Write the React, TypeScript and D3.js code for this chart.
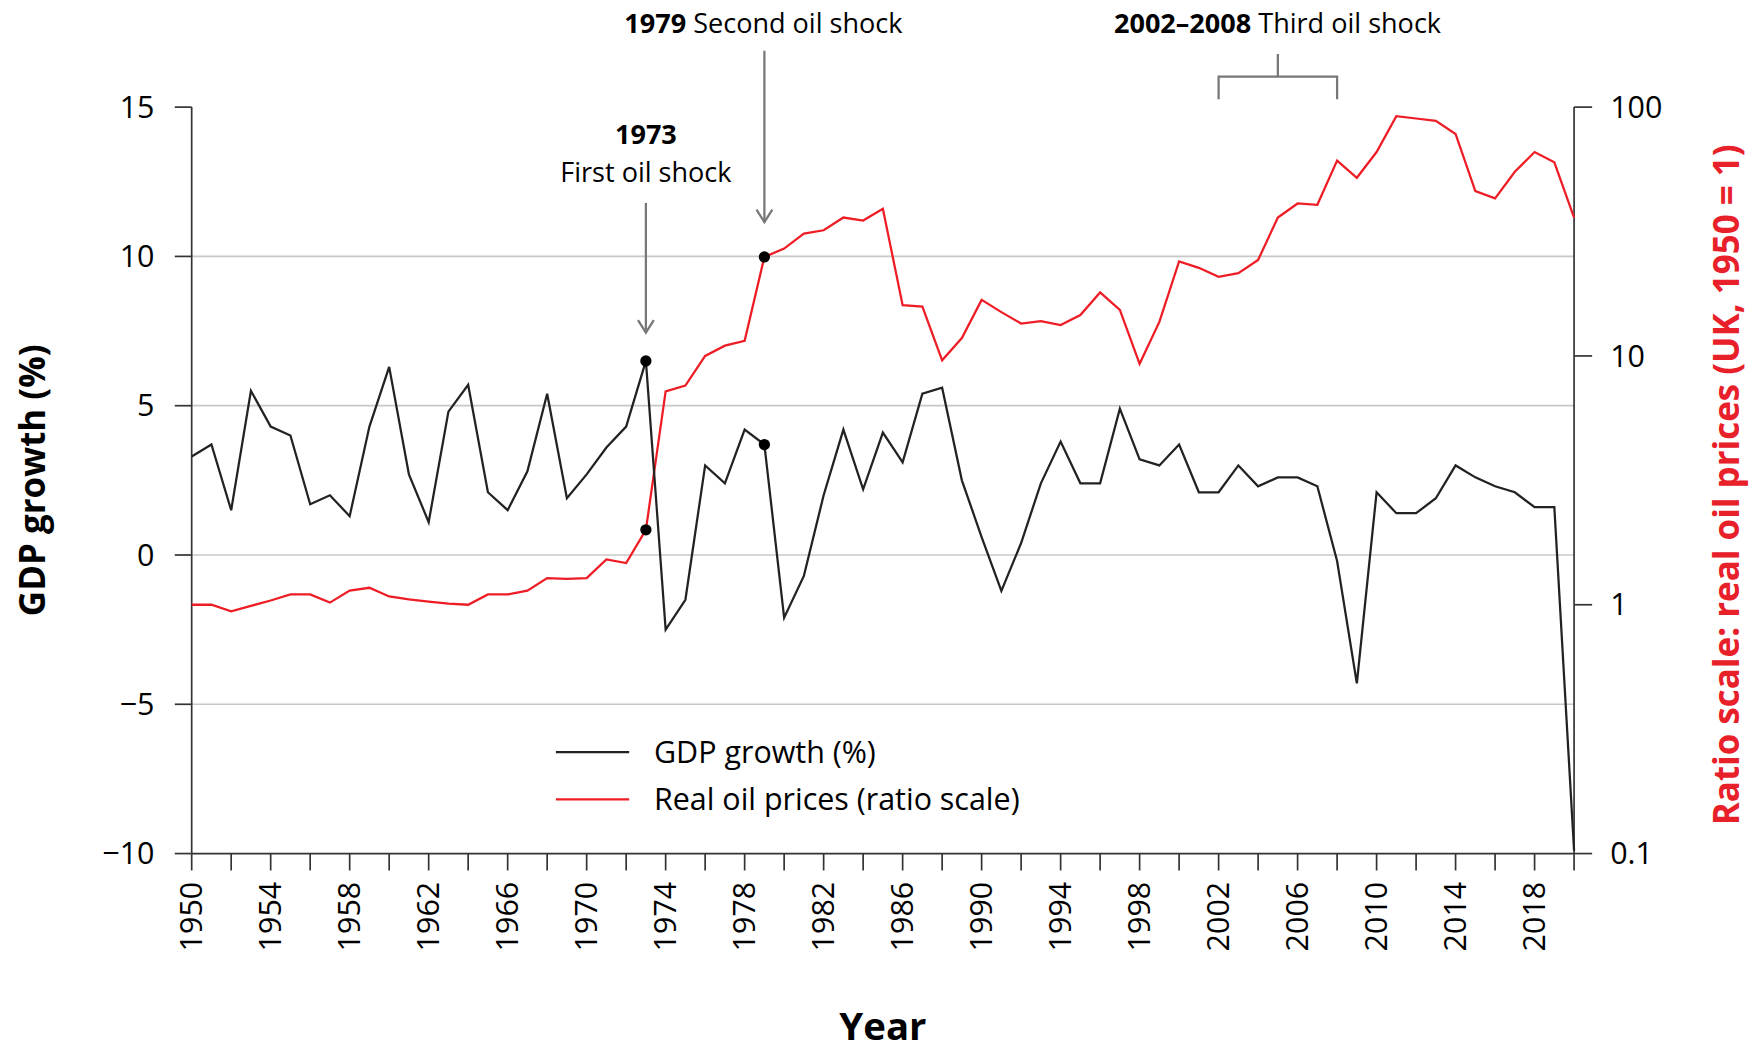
import React from 'react';
import * as d3 from 'd3';

const years = d3.range(1950, 2021);
const gdp = [3.3, 3.7, 1.5, 5.5, 4.3, 4.0, 1.7, 2.0, 1.3, 4.3, 6.3, 2.7, 1.1, 4.8, 5.7, 2.1, 1.5, 2.8, 5.4, 1.9,
  2.7, 3.6, 4.3, 6.5, -2.5, -1.5, 3.0, 2.4, 4.2, 3.7, -2.1, -0.7, 2.0, 4.2, 2.2, 4.1, 3.1, 5.4, 5.6, 2.5,
  0.6, -1.2, 0.4, 2.4, 3.8, 2.4, 2.4, 4.9, 3.2, 3.0, 3.7, 2.1, 2.1, 3.0, 2.3, 2.6, 2.6, 2.3, -0.2, -4.3,
  2.1, 1.4, 1.4, 1.9, 3.0, 2.6, 2.3, 2.1, 1.6, 1.6, -9.9];
const oil = [1.0, 1.0, 0.94, 0.99, 1.04, 1.1, 1.1, 1.02, 1.14, 1.17, 1.08, 1.05, 1.03, 1.01, 1.0, 1.1, 1.1, 1.14, 1.28, 1.27,
  1.28, 1.52, 1.47, 2.0, 7.2, 7.6, 10, 11, 11.5, 25, 27, 31, 32, 36, 35, 39, 16, 15.8, 9.6, 11.8,
  16.8, 15, 13.5, 13.8, 13.3, 14.6, 18, 15.3, 9.3, 13.7, 24, 22.6, 20.8, 21.5, 24.3, 36, 41, 40.5, 61, 52,
  66, 92, 90, 88, 78, 46, 43, 55, 66, 60, 36];
const leftTicks = [15, 10, 5, 0, -5, -10];
const gridTicks = [10, 5, 0, -5];
const rightTicks = [100, 10, 1, 0.1];
const labelYears = d3.range(1950, 2021, 4);
const tickYears = d3.range(1950, 2021, 2);

const x = d3.scaleLinear().domain([1950, 2020]).range([170, 1396]);
const yL = d3.scaleLinear().domain([-10, 15]).range([757, 95]);
const yR = d3.scaleLog().domain([0.1, 100]).range([757, 95]);

const font = '"Open Sans", "Noto Sans", sans-serif';
const fmt = (v: number) => (v < 0 ? '\u2212' + Math.abs(v) : String(v));
const k = 1759 / 1560;

export default function App() {
  const gdpLine = d3.line<number>().x((_, i) => x(years[i])).y(d => yL(d))(gdp) as string;
  const oilLine = d3.line<number>().x((_, i) => x(years[i])).y(d => yR(d))(oil) as string;
  const grey = '#777';
  const arrow = (ax: number, y1: number, y2: number) => (
    <g stroke={grey} strokeWidth={2} fill="none">
      <line x1={ax} x2={ax} y1={y1} y2={y2} />
      <polyline points={`${ax - 7},${y2 - 11} ${ax},${y2} ${ax + 7},${y2 - 11}`} />
    </g>
  );
  return (
    <svg width={1759} height={1043} style={{ display: 'block', position: 'absolute', left: 0, top: 0 }} fontFamily={font}>
      <rect width={1759} height={1043} fill="white" />
      <g transform={`scale(${k})`}>
        {gridTicks.map(t => (
          <line key={t} x1={170} x2={1396} y1={yL(t)} y2={yL(t)} stroke="#c8c8c8" strokeWidth={1.5} />
        ))}
        <line x1={170} x2={170} y1={95} y2={757} stroke="#333" strokeWidth={1.5} />
        {leftTicks.map(t => (
          <g key={t}>
            <line x1={155} x2={170} y1={yL(t)} y2={yL(t)} stroke="#333" strokeWidth={1.5} />
            <text x={137} y={yL(t)} dy="0.35em" textAnchor="end" fontSize={27}>{fmt(t)}</text>
          </g>
        ))}
        <line x1={1396} x2={1396} y1={95} y2={757} stroke="#333" strokeWidth={1.5} />
        {rightTicks.map(t => (
          <g key={t}>
            <line x1={1396} x2={1412} y1={yR(t)} y2={yR(t)} stroke="#333" strokeWidth={1.5} />
            <text x={1428} y={yR(t)} dy="0.35em" fontSize={27}>{t}</text>
          </g>
        ))}
        <line x1={170} x2={1396} y1={757} y2={757} stroke="#333" strokeWidth={1.5} />
        {tickYears.map(yr => (
          <line key={yr} x1={x(yr)} x2={x(yr)} y1={757} y2={772} stroke="#333" strokeWidth={1.5} />
        ))}
        {labelYears.map(yr => (
          <text key={yr} transform={`translate(${x(yr)},782) rotate(-90)`} dy="0.35em" textAnchor="end" fontSize={27}>{yr}</text>
        ))}
        <text x={783} y={922} textAnchor="middle" fontSize={34} fontWeight="bold">Year</text>
        <text transform="translate(40,426) rotate(-90)" textAnchor="middle" fontSize={31} fontWeight="bold">GDP growth (%)</text>
        <text transform="translate(1542,430) rotate(-90)" textAnchor="middle" fontSize={31} fontWeight="bold" fill="#e8202a">Ratio scale: real oil prices (UK, 1950 = 1)</text>
        <path d={oilLine} fill="none" stroke="#ee1c25" strokeWidth={2} />
        <path d={gdpLine} fill="none" stroke="#222" strokeWidth={2} />
        {[[1973, yL(6.5)], [1973, yR(2.0)], [1979, yL(3.7)], [1979, yR(25)]].map(([a, b], i) => (
          <circle key={i} cx={x(a)} cy={b} r={5} fill="black" />
        ))}
        <text x={x(1973)} y={128} textAnchor="middle" fontSize={24} fontWeight="bold">1973</text>
        <text x={x(1973)} y={161} textAnchor="middle" fontSize={24}>First oil shock</text>
        {arrow(x(1973), 180, 295)}
        <text x={677} y={29} textAnchor="middle" fontSize={24}><tspan fontWeight="bold">1979</tspan> Second oil shock</text>
        {arrow(x(1979), 45, 197)}
        <text x={1133} y={29} textAnchor="middle" fontSize={24}><tspan fontWeight="bold">2002–2008</tspan> Third oil shock</text>
        <path d={`M${x(2002)},88 V68 H${x(2008)} V88 M${(x(2002) + x(2008)) / 2},68 V48`} fill="none" stroke={grey} strokeWidth={2} />
        <line x1={493} x2={558} y1={667} y2={667} stroke="#222" strokeWidth={2} />
        <text x={580} y={667} dy="0.35em" fontSize={27}>GDP growth (%)</text>
        <line x1={493} x2={558} y1={709} y2={709} stroke="#ee1c25" strokeWidth={2} />
        <text x={580} y={709} dy="0.35em" fontSize={27}>Real oil prices (ratio scale)</text>
      </g>
    </svg>
  );
}
